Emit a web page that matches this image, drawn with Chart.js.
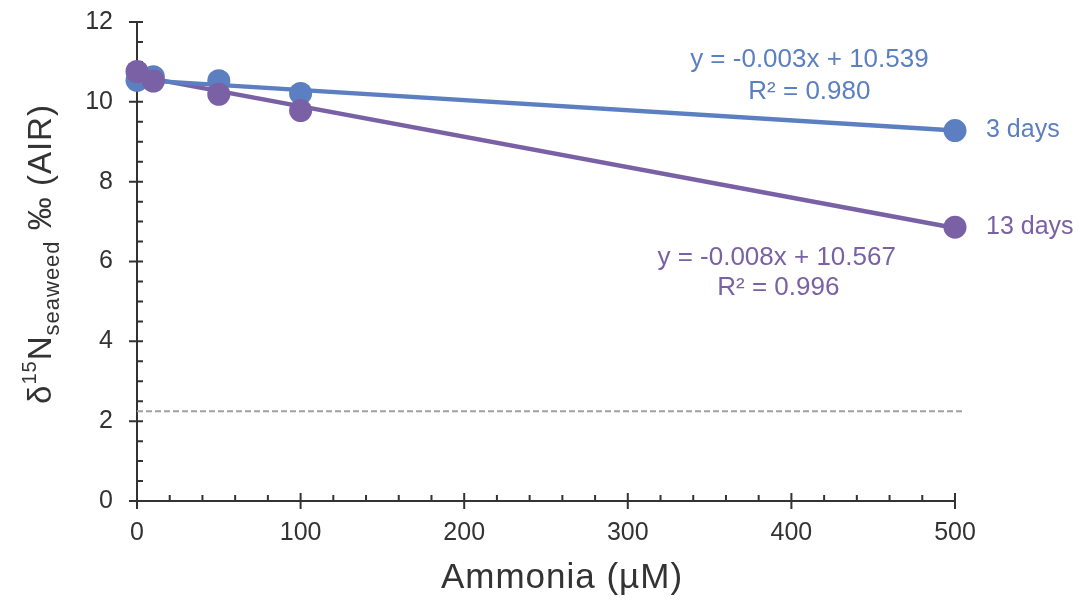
<!DOCTYPE html>
<html>
<head>
<meta charset="utf-8">
<script src="https://cdn.jsdelivr.net/npm/chart.js@4"></script>
<style>
  html, body { margin: 0; padding: 0; background: #fff; }
  #wrap { width: 1080px; height: 602px; }
</style>
</head>
<body>
<div id="wrap"><canvas id="chart" width="1080" height="602"></canvas></div>
<script>
// measured values
const ammonia = [0, 10, 50, 100, 500];
const days3 = [10.54, 10.63, 10.53, 10.21, 9.28];
const days13 = [10.76, 10.52, 10.19, 9.78, 6.86];

// fitted lines as drawn in the figure (ends at x = 0 and x = 500)
const trendX = [0, 500];
const trend3 = [10.55, 9.28];
const trend13 = [10.65, 6.84];

// dashed reference level
const refX = [0, 505];
const refY = [2.25, 2.25];

const xTicks = [0, 100, 200, 300, 400, 500];
const yTicks = [0, 2, 4, 6, 8, 10, 12];

const BLUE = "#5b7fc1";
const PURPLE = "#7a61a5";
const INK = "#333333";
const FONT = "'Liberation Sans', Arial, sans-serif";

const toPts = (xs, ys) => xs.map((x, i) => ({ x: x, y: ys[i] }));

// ticks (major crossing the axis, minor inside), titles and annotations
const decorations = {
  id: "decorations",
  beforeDatasetsDraw(chart) {
    const ctx = chart.ctx;
    const xs = chart.scales.x;
    const ys = chart.scales.y;
    const a = chart.chartArea;
    ctx.save();
    ctx.strokeStyle = INK;
    ctx.lineWidth = 2;
    ctx.beginPath();
    for (let v = 0; v <= 500; v += 20) {
      const px = xs.getPixelForValue(v);
      const major = v % 100 === 0;
      ctx.moveTo(px, a.bottom + (major ? 8 : 0));
      ctx.lineTo(px, a.bottom - (major ? 8 : 6));
    }
    for (let v = 0; v <= 12; v += 0.5) {
      const py = ys.getPixelForValue(v);
      const major = v % 2 === 0;
      ctx.moveTo(a.left - (major ? 8 : 0), py);
      ctx.lineTo(a.left + 6, py);
    }
    ctx.stroke();
    ctx.restore();
  },
  afterDraw(chart) {
    const ctx = chart.ctx;
    const xs = chart.scales.x;
    const ys = chart.scales.y;
    ctx.save();
    ctx.textAlign = "center";
    ctx.textBaseline = "middle";

    // x title
    ctx.fillStyle = INK;
    ctx.font = "35px " + FONT;
    ctx.letterSpacing = "1px";
    ctx.fillText("Ammonia (µM)", 562, 578);

    // y title with super/subscript
    const parts = [
      { t: "δ", size: 33, dy: 0 },
      { t: "15", size: 20, dy: -15 },
      { t: "N", size: 33, dy: 0 },
      { t: "seaweed", size: 22, dy: 8 },
      { t: " ‰ (AIR)", size: 33, dy: 0 }
    ];
    ctx.letterSpacing = "1px";
    let total = 0;
    parts.forEach(p => { ctx.font = p.size + "px " + FONT; p.w = ctx.measureText(p.t).width; total += p.w; });
    ctx.translate(51, 254);
    ctx.rotate(-Math.PI / 2);
    ctx.textAlign = "left";
    ctx.textBaseline = "alphabetic";
    let cx = -total / 2;
    parts.forEach(p => {
      ctx.font = p.size + "px " + FONT;
      ctx.fillText(p.t, cx, p.dy);
      cx += p.w;
    });
    ctx.setTransform(1, 0, 0, 1, 0, 0);
    ctx.letterSpacing = "0px";

    // equations and series labels
    ctx.font = "26px " + FONT;
    ctx.textAlign = "center";
    ctx.textBaseline = "middle";
    ctx.fillStyle = BLUE;
    ctx.fillText("y = -0.003x + 10.539", xs.getPixelForValue(411), ys.getPixelForValue(11.05));
    ctx.fillText("R² = 0.980", xs.getPixelForValue(411), ys.getPixelForValue(10.25));
    ctx.fillStyle = PURPLE;
    ctx.fillText("y = -0.008x + 10.567", xs.getPixelForValue(391), ys.getPixelForValue(6.08));
    ctx.fillText("R² = 0.996", xs.getPixelForValue(392), ys.getPixelForValue(5.34));
    ctx.font = "25px " + FONT;
    ctx.textAlign = "left";
    ctx.fillStyle = BLUE;
    ctx.fillText("3 days", xs.getPixelForValue(500) + 31, ys.getPixelForValue(days3[4]));
    ctx.fillStyle = PURPLE;
    ctx.fillText("13 days", xs.getPixelForValue(500) + 31, ys.getPixelForValue(days13[4]));
    ctx.restore();
  }
};

new Chart(document.getElementById("chart"), {
  type: "scatter",
  data: {
    datasets: [
      {
        label: "13 days",
        data: toPts(ammonia, days13),
        backgroundColor: PURPLE,
        borderColor: PURPLE,
        pointRadius: 11.5,
        borderWidth: 0,
        clip: false,
        order: 1
      },
      {
        label: "3 days",
        data: toPts(ammonia, days3),
        backgroundColor: BLUE,
        borderColor: BLUE,
        pointRadius: 11.5,
        borderWidth: 0,
        clip: false,
        order: 2
      },
      {
        label: "fit 3 days",
        data: toPts(trendX, trend3),
        showLine: true,
        borderColor: BLUE,
        borderWidth: 4.5,
        pointRadius: 0,
        clip: false,
        order: 3
      },
      {
        label: "fit 13 days",
        data: toPts(trendX, trend13),
        showLine: true,
        borderColor: PURPLE,
        borderWidth: 4.5,
        pointRadius: 0,
        clip: false,
        order: 4
      },
      {
        label: "reference",
        data: toPts(refX, refY),
        showLine: true,
        borderColor: "#a0a0a0",
        borderWidth: 2,
        borderDash: [6, 3],
        pointRadius: 0,
        clip: false,
        order: 5
      }
    ]
  },
  options: {
    responsive: false,
    animation: false,
    layout: { padding: { top: 22, right: 125, left: 0, bottom: 0 } },
    plugins: {
      legend: { display: false },
      tooltip: { enabled: false }
    },
    scales: {
      x: {
        type: "linear",
        min: 0,
        max: 500,
        afterFit: s => { s.height = 101; s.paddingLeft = 0; s.paddingRight = 0; },
        afterBuildTicks: s => { s.ticks = xTicks.map(v => ({ value: v })); },
        grid: { display: false, drawTicks: false },
        border: { display: true, color: INK, width: 2 },
        ticks: { color: INK, padding: 17, font: { family: FONT, size: 25 } }
      },
      y: {
        type: "linear",
        min: 0,
        max: 12,
        afterFit: s => { s.width = 137; s.paddingTop = 0; s.paddingBottom = 0; },
        afterBuildTicks: s => { s.ticks = yTicks.map(v => ({ value: v })); },
        grid: { display: false, drawTicks: false },
        border: { display: true, color: INK, width: 2 },
        ticks: { color: INK, padding: 24, font: { family: FONT, size: 25 } }
      }
    }
  },
  plugins: [decorations]
});
</script>
</body>
</html>
